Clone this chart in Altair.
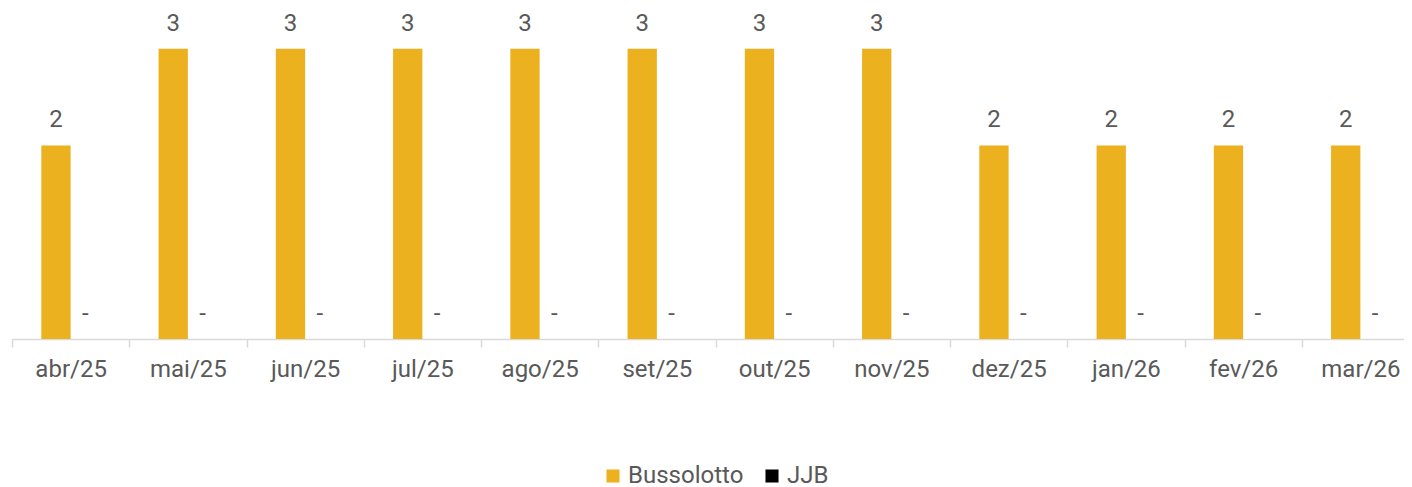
import altair as alt
import pandas as pd

months = ["abr/25", "mai/25", "jun/25", "jul/25", "ago/25", "set/25",
          "out/25", "nov/25", "dez/25", "jan/26", "fev/26", "mar/26"]
bussolotto = [2, 3, 3, 3, 3, 3, 3, 3, 2, 2, 2, 2]
jjb = [0, 0, 0, 0, 0, 0, 0, 0, 0, 0, 0, 0]
series = ["Bussolotto", "JJB"]
colors = ["#ECB11F", "#000000"]

rows = []
for i, m in enumerate(months):
    rows.append({"mes": m, "serie": series[0], "valor": bussolotto[i]})
    rows.append({"mes": m, "serie": series[1], "valor": jjb[i]})
df = pd.DataFrame(rows)

FONT = "Roboto"
FS = 24
GREY = "#595959"

x = alt.X("mes:N", sort=months, title=None,
          scale=alt.Scale(paddingInner=0, paddingOuter=0),
          axis=alt.Axis(labelAngle=0, labelFont=FONT, labelFontSize=FS, labelColor=GREY,
                        domainColor="#D9D9D9", domainWidth=1.5, tickColor="#D9D9D9",
                        tickWidth=1.5, tickSize=8, tickBand="extent", labelPadding=10,
                        grid=False))
xo = alt.XOffset("serie:N", sort=series,
                 scale=alt.Scale(paddingInner=0, paddingOuter=1))
y = alt.Y("valor:Q", scale=alt.Scale(domain=[0, 3.42]), axis=None)

base = alt.Chart(df).encode(x=x, xOffset=xo, y=y)

bars = base.mark_bar().encode(
    color=alt.Color("serie:N", sort=series,
                    scale=alt.Scale(domain=series, range=colors),
                    legend=alt.Legend(title=None, orient="none", direction="horizontal",
                                      legendX=589, legendY=456, symbolType="square",
                                      symbolSize=170, labelFont=FONT, labelFontSize=FS,
                                      labelColor=GREY, columnPadding=16, labelOffset=3,
                                      symbolStrokeWidth=0))
)

labels = base.transform_calculate(
    lab="datum.valor == 0 ? '-' : format(datum.valor, 'd')"
).mark_text(font=FONT, fontSize=FS, color=GREY, baseline="alphabetic", dy=-18).encode(
    text="lab:N"
)

chart = alt.layer(bars, labels).properties(
    width=1407, height=331,
    autosize=alt.AutoSizeParams(type="none"),
    padding={"left": 4, "top": 0, "right": -15, "bottom": 165}
).configure_view(stroke=None)

chart.save("out.html", embed_options={"renderer": "svg", "actions": False})
